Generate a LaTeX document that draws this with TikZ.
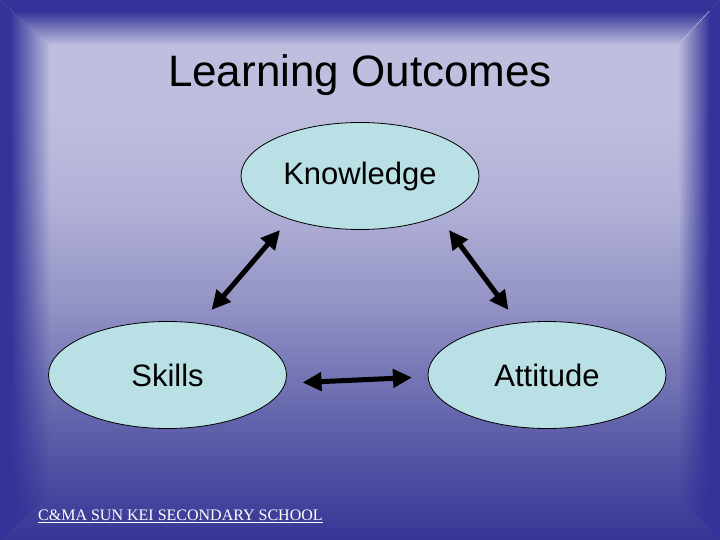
\documentclass[tikz,border=0pt]{standalone}
\usepackage{fontspec}
\setmainfont{Liberation Sans}
\newfontfamily\serifft{Liberation Serif}
\usetikzlibrary{shapes.geometric,arrows.meta,fadings}
\definecolor{dk}{RGB}{51,51,153}
\definecolor{lt}{RGB}{190,190,222}
\definecolor{cb}{RGB}{178,178,216}
\definecolor{cc}{RGB}{148,148,198}
\definecolor{cd}{RGB}{95,95,170}
\definecolor{ce}{RGB}{54,54,150}
\definecolor{bub}{RGB}{185,224,228}
\tikzfading[name=opL, left color=transparent!0, right color=transparent!100]
\tikzfading[name=opR, left color=transparent!100, right color=transparent!0]
\tikzfading[name=opT, top color=transparent!0, bottom color=transparent!100]
\begin{document}
\begin{tikzpicture}[x=1pt,y=-1pt,
  bubble/.style={ellipse, draw=black, line width=0.8pt, fill=bub,
    minimum width=238pt, minimum height=107pt, inner sep=0pt,
    font=\fontsize{31}{36}\selectfont},
  link/.style={line width=5pt, draw=black,
    {Triangle[length=19pt,width=18pt]}-{Triangle[length=19pt,width=18pt]}}]
\useasboundingbox (0,0) rectangle (720,540);
% background
\fill[lt] (0,0) rectangle (720,111);
\shade[top color=lt, bottom color=cb] (0,110) rectangle (720,201);
\shade[top color=cb, bottom color=cc] (0,200) rectangle (720,301);
\shade[top color=cc, bottom color=cd] (0,300) rectangle (720,431);
\shade[top color=cd, bottom color=ce] (0,430) rectangle (720,540);
% top band
\fill[dk] (0,0) -- (720,0) -- (709.7,11) -- (12.2,11) -- cycle;
\fill[dk, path fading=opT] (12.2,11) -- (709.7,11) -- (678,45) -- (50,45) -- cycle;
% left band
\fill[dk] (0,0) -- (10,9) -- (10,531) -- (0,540) -- cycle;
\fill[dk, path fading=opL] (10,9) -- (50,45) -- (50,495) -- (10,531) -- cycle;
% right band
\fill[dk] (720,0) -- (710,10.7) -- (710,529) -- (720,540) -- cycle;
\fill[dk, path fading=opR] (710,10.7) -- (678,45) -- (678,495) -- (710,529) -- cycle;
% title
\node[anchor=base, font=\fontsize{44}{52}\selectfont] (title) at (360,87) {Learning Outcomes};
% nodes
\node[bubble] (K) at (360,176) {Knowledge};
\node[bubble] (S) at (167.5,375) {Skills};
\node[bubble] (A) at (547,375) {Attitude};
% arrow ends
\coordinate (k1) at (280,230);
\coordinate (s1) at (211.5,310);
\coordinate (k2) at (449,230);
\coordinate (a1) at (508.5,310);
\coordinate (s2) at (302.5,382.5);
\coordinate (a2) at (412,377.5);
\draw[link] (s1) -- (k1);
\draw[link] (k2) -- (a1);
\draw[link] (s2) -- (a2);
% footer
\node[anchor=base west, inner sep=0pt, text=white, font=\serifft\fontsize{16}{19}\selectfont] (foot) at (38,520) {C\&MA SUN KEI SECONDARY SCHOOL};
\draw[white, line width=1.2pt] ([yshift=-2.5pt]foot.base west) -- ([yshift=-2.5pt]foot.base east);
\end{tikzpicture}
\end{document}
